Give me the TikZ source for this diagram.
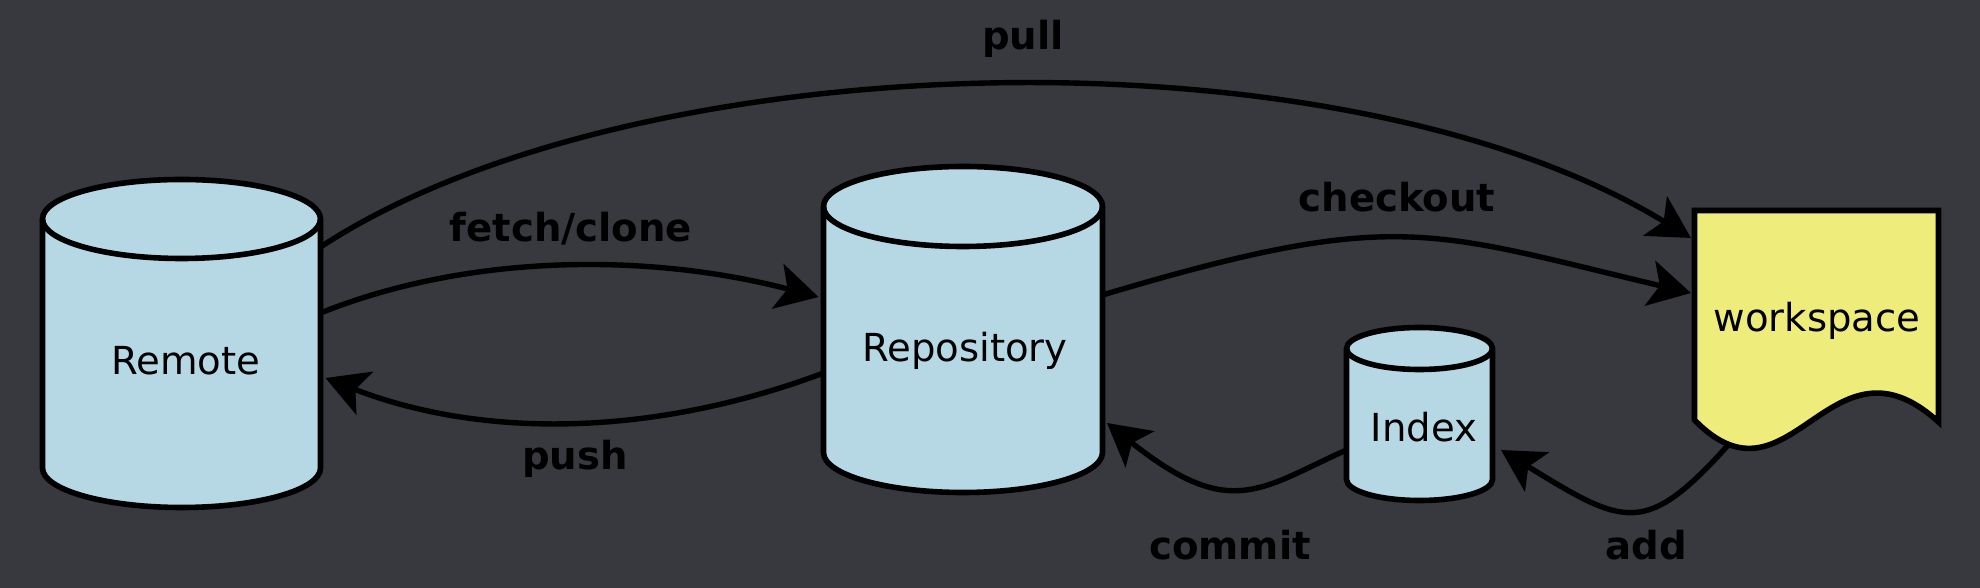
\documentclass[tikz,border=0pt]{standalone}
\usepackage{fontspec}
\setmainfont{DejaVu Sans}
\usetikzlibrary{arrows.meta,calc}
\definecolor{bg}{RGB}{55,57,63}
\definecolor{cylblue}{RGB}{182,216,228}
\definecolor{wsyellow}{RGB}{238,236,122}
\newcommand\drawdb[3]{%
  \path[cyl] ($(#1.north west)+(0pt,-#3)$) -- ($(#1.south west)+(0pt,#3)$)
    arc[start angle=180,end angle=360,x radius=#2,y radius=#3]
    -- ($(#1.north east)+(0pt,-#3)$)
    arc[start angle=0,end angle=180,x radius=#2,y radius=#3] -- cycle;
  \draw[cyl,fill=none] ($(#1.north west)+(0pt,-#3)$)
    arc[start angle=180,end angle=360,x radius=#2,y radius=#3];}
\begin{document}
\begin{tikzpicture}[x=0.5pt,y=0.5pt,
  shapebox/.style={rectangle,inner sep=0pt,outer sep=0pt,draw=none},
  cyl/.style={draw=black,fill=cylblue,line width=2.8pt},
  wsshape/.style={draw=black,fill=wsyellow,line width=2.8pt},
  conn/.style={draw=black,line width=2.7pt,-{Stealth[length=21pt,width=23pt,inset=5pt]}},
  nodetext/.style={anchor=base,inner sep=0pt,font=\fontsize{19.3}{23}\selectfont,text=black},
  edgelabel/.style={anchor=base,inner sep=0pt,font=\fontsize{19.3}{23}\selectfont\bfseries,text=black}]
\useasboundingbox (0,0) rectangle (1980,588);
\fill[bg] (0,0) rectangle (1980,588);

% shapes
\node[shapebox,minimum width=139pt,minimum height=164pt] (remote) at (181.5,244.5) {};
\node[shapebox,minimum width=139.5pt,minimum height=163pt] (repo) at (963,258.5) {};
\node[shapebox,minimum width=73pt,minimum height=86.5pt] (index) at (1419.5,174) {};
\node[shapebox,minimum width=122pt,minimum height=104.75pt] (ws) at (1816.5,272.75) {};

\drawdb{remote}{69.5pt}{19.75pt}
\drawdb{repo}{69.75pt}{20pt}
\drawdb{index}{36.5pt}{10.5pt}
\path[wsshape] (ws.south west) -- (ws.north west) -- (ws.north east) -- ($(ws.south east)+(0,-2)$)
  .. controls (1830,265) and (1790,70) .. (ws.south west) -- cycle;

% texts
\node[nodetext] (remote-t) at (186,213) {Remote};
\node[nodetext] (repo-t) at (965,226) {Repository};
\node[nodetext] (index-t) at (1424,146) {Index};
\node[nodetext] (ws-t) at (1817,256) {workspace};

% connectors
\draw[conn] ($(remote.east)+(0,96.5)$) .. controls (632,545.5) and (1338,565.5) .. ($(ws.west)+(-3.5,77.25)$);
\draw[conn] ($(remote.east)+(0,30.5)$) .. controls (470,335) and (650,335) .. ($(repo.west)+(-5,32.5)$);
\draw[conn] ($(repo.west)+(0,-43.5)$) .. controls (650,150) and (480,150) .. ($(remote.east)+(5,-34.5)$);
\draw[conn] ($(repo.east)+(0,34.5)$) .. controls (1397,381) and (1429,357) .. ($(ws.west)+(-3.5,22.25)$);
\draw[conn] ($(index.west)+(0,-36)$) .. controls (1261,100) and (1231,66) .. ($(repo.east)+(4.5,-93.5)$);
\draw[conn] ($(ws.south west)+(35.5,-23)$) .. controls (1645,50) and (1625,62) .. ($(index.east)+(8.5,-36)$);

% labels
\node[edgelabel] (pull-l) at (1023,538) {pull};
\node[edgelabel] (fetch-l) at (571,346) {fetch/clone};
\node[edgelabel] (push-l) at (575,118) {push};
\node[edgelabel] (checkout-l) at (1397,376) {checkout};
\node[edgelabel] (commit-l) at (1230,28) {commit};
\node[edgelabel] (add-l) at (1646,28) {add};
\end{tikzpicture}
\end{document}
